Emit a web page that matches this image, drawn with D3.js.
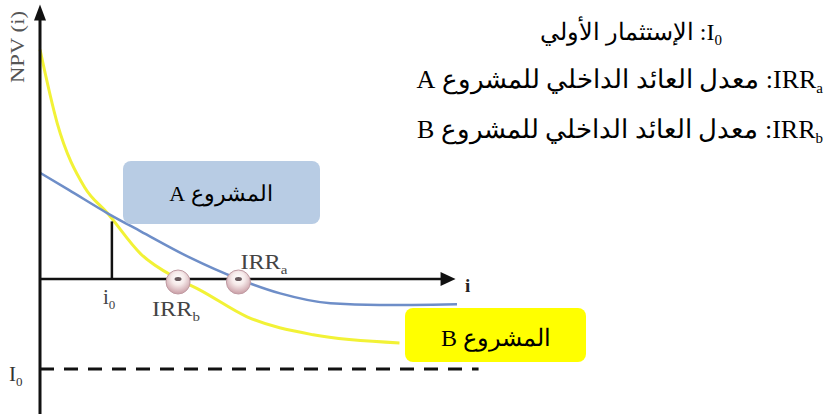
<!DOCTYPE html>
<html>
<head>
<meta charset="utf-8">
<script src="https://cdn.jsdelivr.net/npm/d3@7"></script>
<style>
  body { margin: 0; background: #fff; }
  svg { display: block; font-family: "Liberation Serif", "DejaVu Serif", serif; }
</style>
</head>
<body>
<svg id="chart" width="826" height="419"></svg>
<script>
// NPV profile of the two projects (rate in %, NPV in arbitrary units)
var rateA = [0, 2, 4.7, 7, 10.4, 13.8, 16.7, 20.2, 23.6, 29];
var npvA  = [118, 99, 73, 53, 24, 0, -16, -27, -29, -28];
var rateB = [0, 1.2, 3.1, 4.7, 7, 9.6, 11.1, 14.4, 19, 25];
var npvB  = [255, 173, 102, 73, 28, 0, -12, -42, -62, -71];

// key points
var i0 = 5, npvAtI0 = 64;
var irrA = 13.8, irrB = 9.6;
var investment = 100;

// axis extents
var rateMax = 28.9, dashEnd = 30.5;
var npvTop = 305, npvBottom = -150;

var legendLines = [
  {main: "I", sub: "0", rest: ": الإستثمار الأولي"},
  {main: "IRR", sub: "a", rest: ": معدل العائد الداخلي للمشروع A"},
  {main: "IRR", sub: "b", rest: ": معدل العائد الداخلي للمشروع B"}
];
var boxLabels = ["المشروع A", "المشروع B"];

var svg = d3.select("svg#chart");

var x = d3.scaleLinear().domain([0, 29]).range([40, 457]);
var y = d3.scaleLinear().domain([0, -100]).range([279, 369]);

var line = d3.line()
    .x(function(d) { return x(d[0]); })
    .y(function(d) { return y(d[1]); })
    .curve(d3.curveMonotoneX);

// curves
svg.append("path")
    .datum(d3.zip(rateB, npvB))
    .attr("d", line)
    .attr("fill", "none")
    .attr("stroke", "#f2f236")
    .attr("stroke-width", 3);

svg.append("path")
    .datum(d3.zip(rateA, npvA))
    .attr("d", line)
    .attr("fill", "none")
    .attr("stroke", "#6e8ec8")
    .attr("stroke-width", 2.5);

// axes
svg.append("line")
    .attr("x1", x(0)).attr("x2", x(0))
    .attr("y1", y(npvBottom)).attr("y2", y(npvTop) + 12)
    .attr("stroke", "#111").attr("stroke-width", 3);
svg.append("path")
    .attr("d", "M" + x(0) + "," + y(npvTop) + " l-6,16 l12,0 z")
    .attr("fill", "#111");

svg.append("line")
    .attr("x1", x(0)).attr("x2", x(rateMax) - 12)
    .attr("y1", y(0)).attr("y2", y(0))
    .attr("stroke", "#111").attr("stroke-width", 2.7);
svg.append("path")
    .attr("d", "M" + x(rateMax) + "," + y(0) + " l-15,-7 l0,14 z")
    .attr("fill", "#111");

// initial investment
svg.append("line")
    .attr("x1", x(0)).attr("x2", x(dashEnd))
    .attr("y1", y(-investment)).attr("y2", y(-investment))
    .attr("stroke", "#111").attr("stroke-width", 3)
    .attr("stroke-dasharray", "14,10");

// i0 marker
svg.append("line")
    .attr("x1", x(i0)).attr("x2", x(i0))
    .attr("y1", y(0)).attr("y2", y(npvAtI0))
    .attr("stroke", "#111").attr("stroke-width", 2.5);

// IRR markers
var grad = svg.append("defs").append("radialGradient")
    .attr("id", "ring").attr("cx", "50%").attr("cy", "35%").attr("r", "60%");
grad.append("stop").attr("offset", "0%").attr("stop-color", "#ffffff");
grad.append("stop").attr("offset", "45%").attr("stop-color", "#f6eaea");
grad.append("stop").attr("offset", "100%").attr("stop-color", "#cfa7ae");

var marks = svg.selectAll("g.irr")
    .data([irrB, irrA])
    .enter()
    .append("g")
    .attr("class", "irr")
    .attr("transform", function(d) { return "translate(" + x(d) + "," + (y(0) + 3) + ")"; });
marks.append("circle")
    .attr("r", 12)
    .attr("fill", "url(#ring)")
    .attr("stroke", "#c09aa2").attr("stroke-width", 1);
marks.append("ellipse")
    .attr("cy", -3).attr("rx", 3.5).attr("ry", 2)
    .attr("fill", "#6a5a5e");

// boxes
svg.append("rect")
    .attr("x", 123).attr("y", 161).attr("width", 197).attr("height", 63)
    .attr("rx", 8).attr("fill", "#b8cce4");
svg.append("rect")
    .attr("x", 405).attr("y", 308).attr("width", 181).attr("height", 54)
    .attr("rx", 8).attr("fill", "#ffff00");

svg.append("text")
    .attr("x", 221).attr("y", 201)
    .attr("direction", "rtl").attr("text-anchor", "middle")
    .attr("font-size", 22)
    .text(boxLabels[0]);
svg.append("text")
    .attr("x", 496).attr("y", 346)
    .attr("direction", "rtl").attr("text-anchor", "middle")
    .attr("font-size", 24)
    .text(boxLabels[1]);

// small labels
function subLabel(px, py, main, sub, size, color, len) {
    var t = svg.append("text")
        .attr("x", px).attr("y", py)
        .attr("font-size", size)
        .attr("fill", color);
    if (len) t.attr("textLength", len).attr("lengthAdjust", "spacingAndGlyphs");
    t.append("tspan").text(main);
    t.append("tspan").attr("font-size", size * 0.62).attr("dy", size * 0.22).text(sub);
    return t;
}

svg.append("text")
    .attr("transform", "translate(24,83) rotate(-90)")
    .attr("font-size", 18)
    .attr("fill", "#555")
    .attr("textLength", 72).attr("lengthAdjust", "spacingAndGlyphs")
    .text("NPV (i)");

svg.append("text")
    .attr("x", 465).attr("y", 292)
    .attr("font-size", 19).attr("font-weight", "bold")
    .attr("fill", "#222")
    .text("i");

subLabel(x(i0) - 9, 304, "i", "0", 21, "#444");
subLabel(9, 381, "I", "0", 21, "#333");
subLabel(x(irrA) + 2, 269, "IRR", "a", 21, "#444", 47);
subLabel(x(irrB) - 26, 316, "IRR", "b", 21, "#444", 48);

// legend on the right
var legendY = [40, 88, 138];
legendLines.forEach(function(d, i) {
    var t = svg.append("text")
        .attr("x", i === 0 ? 722 : 823)
        .attr("y", legendY[i])
        .attr("direction", "rtl")
        .attr("text-anchor", "start")
        .attr("font-size", i === 0 ? 24 : 26)
        .attr("fill", "#000");
    t.append("tspan").text(d.main);
    t.append("tspan").attr("font-size", 15).attr("dy", 5).text(d.sub);
    t.append("tspan").attr("dy", -5).text(d.rest);
});
</script>
</body>
</html>
